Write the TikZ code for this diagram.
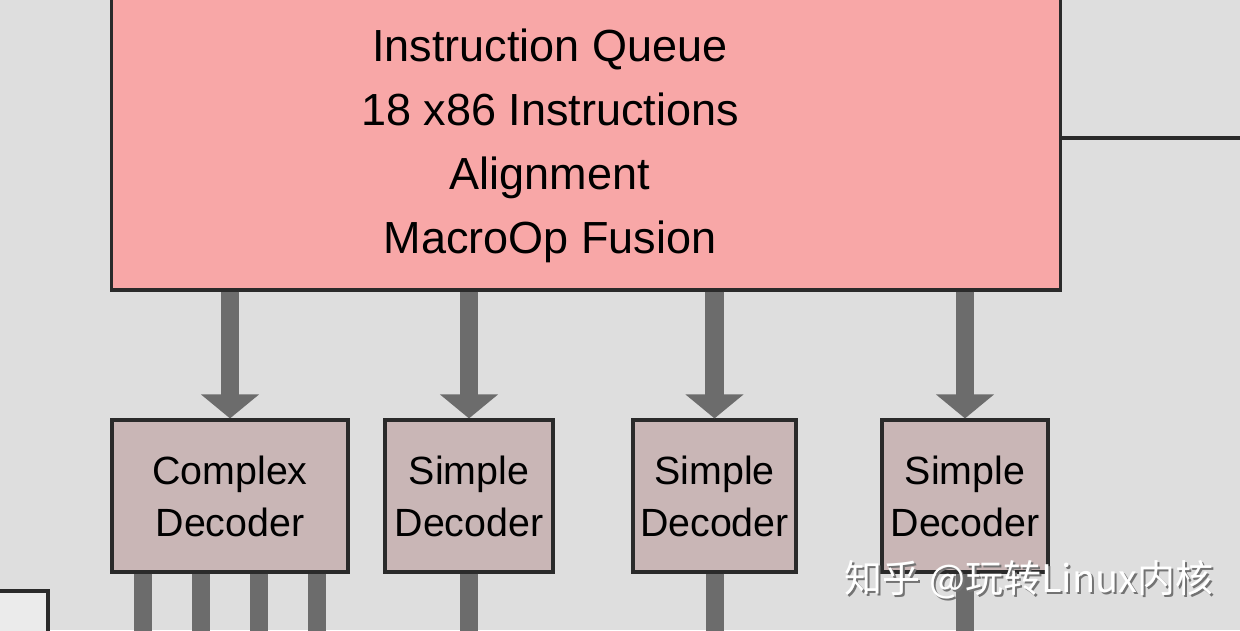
\documentclass[tikz,border=0pt]{standalone}
\usepackage{fontspec}
\setmainfont{Liberation Sans}
\newfontfamily\cjkfont{Noto Sans CJK SC}
\usetikzlibrary{positioning}
\usetikzlibrary{arrows.meta}

\definecolor{bggray}{HTML}{DEDEDE}
\definecolor{queuepink}{HTML}{F8A7A7}
\definecolor{decfill}{HTML}{C9B6B6}
\definecolor{flowgray}{HTML}{6C6C6C}
\definecolor{edgedark}{HTML}{2A2A2A}

\begin{document}
\begin{tikzpicture}[
        x = 0.025cm, y = -0.025cm, % one unit = one pixel
        edge/.style = {draw=edgedark, line width=2.2pt}, % box outline
        queuebox/.style = {edge, fill=queuepink, inner sep=0pt,
                font=\fontsize{32}{45.5}\selectfont},
        decbox/.style = {edge, fill=decfill, inner sep=0pt, align=center,
                minimum height=3.8cm, font=\fontsize{28}{37}\selectfont},
        flow/.style = {draw=flowgray, line width=0.47cm,
                -{Triangle[width=1.42cm, length=0.6cm]}}, % fat arrow
        wire/.style = {draw=flowgray, line width=0.45cm}
        ]

  \useasboundingbox (0,0) rectangle (1240,630);
  \clip (0,0) rectangle (1240,630);
  \fill[bggray] (0,0) rectangle (1240,630);

  \coordinate (rightedge) at (1250,138);

  % text sits a little left of the box centre
  \node[queuebox, minimum width=23.7cm, minimum height=7.5cm] (queue) at (586,140)
        {\begin{tabular}{@{}c@{}}
           \rule{0pt}{39pt}Instruction Queue\\
           18 x86 Instructions\\
           Alignment\\
           MacroOp Fusion
         \end{tabular}\hspace*{1.8cm}};

  \node[decbox, minimum width=5.9cm] (cdec) at (230,496) {Complex\\Decoder};
  \node[decbox, minimum width=4.2cm] (sdec1) at (469,496) {Simple\\Decoder};
  \node[decbox, minimum width=4.075cm] (sdec2) at (714.5,496) {Simple\\Decoder};
  \node[decbox, minimum width=4.15cm] (sdec3) at (965,496) {Simple\\Decoder};

  \node[edge, fill=bggray!60!white, minimum width=1.45cm, minimum height=1.25cm,
        inner sep=0pt] (prevbox) at (19,616) {};

  \draw[edge] (rightedge -| queue.east) -- (rightedge);

  % queue -> decoders
  \foreach \d in {cdec, sdec1, sdec2, sdec3}
    \draw[flow] (queue.south -| \d.north) -- (\d.north);

  % decoder outputs
  \foreach \dx in {33, 91, 149, 207}
    \draw[wire] ([xshift=\dx*0.025cm]cdec.south west) -- ++(0,80);
  \foreach \d in {sdec1, sdec2, sdec3}
    \draw[wire] (\d.south) -- ++(0,80);

  \node[text=black!55, font=\fontsize{27}{32}\selectfont\cjkfont] (markshadow)
        at (1031,582) {知乎 @玩转Linux内核};
  \node[text=white, font=\fontsize{27}{32}\selectfont\cjkfont] (mark)
        at (1029,580) {知乎 @玩转Linux内核};

\end{tikzpicture}
\end{document}
